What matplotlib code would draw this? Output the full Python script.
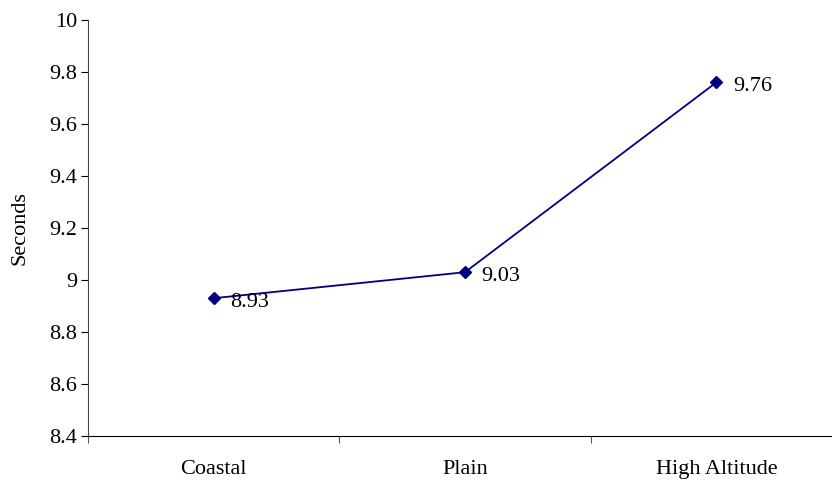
import matplotlib
matplotlib.use("Agg")
import matplotlib.pyplot as plt

categories = ["Coastal", "Plain", "High Altitude"]
values = [8.93, 9.03, 9.76]
yticks = [8.4, 8.6, 8.8, 9.0, 9.2, 9.4, 9.6, 9.8, 10.0]
ytick_labels = ["8.4", "8.6", "8.8", "9", "9.2", "9.4", "9.6", "9.8", "10"]

plt.rcParams['font.family'] = ['Liberation Serif', 'DejaVu Serif']
FS = 16

W, H = 832, 482
fig = plt.figure(figsize=(W / 100, H / 100), dpi=100)
left, right, top, bottom = 88, 842, 20, 436
ax = fig.add_axes([left / W, 1 - bottom / H, (right - left) / W, (bottom - top) / H])

x = list(range(len(categories)))
ax.plot(x, values, color="#000080", lw=1.3, marker="D", ms=6, mfc="#000080", mec="#000080")
for xi, v in zip(x, values):
    ax.annotate(f"{v:g}", (xi, v), xytext=(12, -3), textcoords="offset points",
                ha="left", va="center", fontsize=FS, color="black")

ax.set_xlim(-0.5, len(categories) - 0.5)
ax.set_ylim(8.4, 10.0)
ax.set_yticks(yticks)
ax.set_yticklabels(ytick_labels, fontsize=FS)
ax.set_xticks([i - 0.5 for i in range(len(categories) + 1)])
ax.set_xticklabels([])
ax.set_xticks(x, minor=True)
ax.set_xticklabels(categories, minor=True, fontsize=FS)
ax.tick_params(axis="x", which="minor", length=0, pad=17)
ax.tick_params(axis="x", which="major", length=5, width=0.8, color="#555555")
ax.tick_params(axis="y", length=5, width=0.8, pad=3)

for s in ["top", "right"]:
    ax.spines[s].set_visible(False)
ax.spines["left"].set_color("#444444")
ax.spines["bottom"].set_color("black")
ax.spines["left"].set_bounds(8.4, 10.0)

ax.set_ylabel("Seconds", fontsize=FS, labelpad=14)

fig.savefig("out.png", dpi=100)
